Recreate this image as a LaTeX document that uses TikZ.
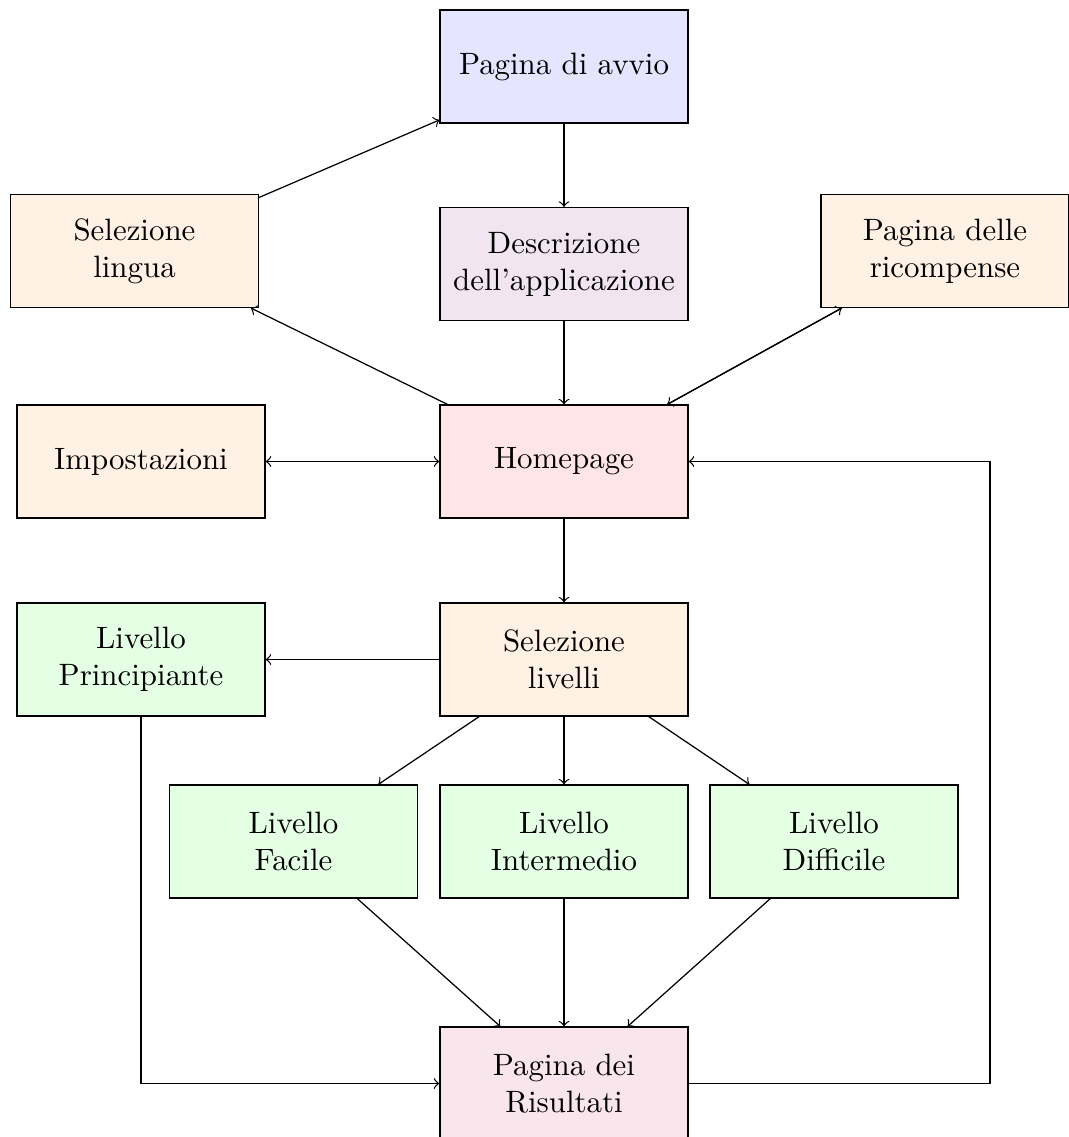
\documentclass[tikz,border=0pt]{standalone}
\begin{document}
\begin{tikzpicture}[x=0.3236pt,y=-0.3236pt,
  box/.style={draw, rectangle, align=center, minimum width=80.2pt, minimum height=36.5pt, inner sep=2pt},
  blu/.style={box, fill=blue!10},
  viol/.style={box, fill=violet!10},
  aran/.style={box, fill=orange!10},
  ros/.style={box, fill=red!10},
  verde/.style={box, fill=green!10},
  risu/.style={box, fill=purple!10},
  freccia/.style={->}]
\useasboundingbox (0,0) rectangle (1068,1137);

% pages
\node[blu]   (avvio)  at (564,66.5)   {Pagina di avvio};
\node[aran]  (lingua) at (134.5,251)  {Selezione\\lingua};
\node[viol]  (descr)  at (564,264)    {Descrizione\\dell'applicazione};
\node[aran]  (ricomp) at (945,251)    {Pagina delle\\ricompense};
\node[aran]  (impost) at (141,461.5)  {Impostazioni};
\node[ros]   (home)   at (564,461.5)  {Homepage};
\node[verde] (princ)  at (141,659.5)  {Livello\\Principiante};
\node[aran]  (sel)    at (564,659.5)  {Selezione\\livelli};
\node[verde] (facile) at (293.5,841.5){Livello\\Facile};
\node[verde] (inter)  at (564,841.5)  {Livello\\Intermedio};
\node[verde] (diff)   at (834,841.5)  {Livello\\Difficile};
\node[risu]  (ris)    at (564,1083.5) {Pagina dei\\Risultati};
\coordinate (ritorno) at (990,1083.5);

% navigation
\draw[freccia] (lingua) -- (avvio);
\draw[freccia] (avvio) -- (descr);
\draw[freccia] (descr) -- (home);
\draw[freccia] (home) -- (lingua);
\draw[freccia] (home) -- (ricomp);
\draw[freccia] (ricomp) -- (home);
\draw[freccia] (home) -- (impost);
\draw[freccia] (impost) -- (home);
\draw[freccia] (home) -- (sel);
\draw[freccia] (sel) -- (princ);
\draw[freccia] (sel) -- (facile);
\draw[freccia] (sel) -- (inter);
\draw[freccia] (sel) -- (diff);
\draw[freccia] (facile) -- (ris);
\draw[freccia] (inter) -- (ris);
\draw[freccia] (diff) -- (ris);
\draw[freccia] (princ.south) |- (ris.west);
\draw[freccia] (ris.east) -- (ritorno) |- (home.east);
\end{tikzpicture}
\end{document}
